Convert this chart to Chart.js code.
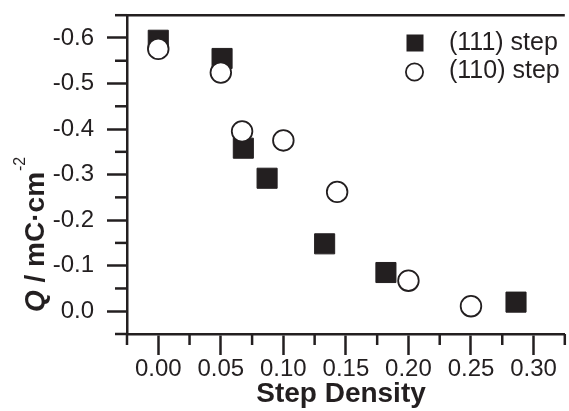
<!DOCTYPE html>
<html><head><meta charset="utf-8">
<script src="https://cdn.jsdelivr.net/npm/chart.js@4"></script>
<style>
html,body{margin:0;padding:0;background:#fff;overflow:hidden;width:569px;height:411px}
#wrap{position:relative;width:580px;height:411px}
canvas{display:block}
</style></head>
<body><div id="wrap"><canvas id="c" width="580" height="411"></canvas></div>
<script>
// ---- data ----
const stepDensity111 = [0.000, 0.051, 0.068, 0.087, 0.133, 0.182, 0.286];
const charge111      = [-0.595, -0.555, -0.358, -0.292, -0.148, -0.085, -0.020];
const stepDensity110 = [0.000, 0.050, 0.067, 0.100, 0.143, 0.200, 0.250];
const charge110      = [-0.576, -0.524, -0.395, -0.375, -0.262, -0.067, -0.011];

const seriesNames = ['(111) step', '(110) step'];
const xTickValues = [0.00, 0.05, 0.10, 0.15, 0.20, 0.25, 0.30];
const xTickLabels = ['0.00', '0.05', '0.10', '0.15', '0.20', '0.25', '0.30'];
const xMinorTicks = [-0.025, 0.025, 0.075, 0.125, 0.175, 0.225, 0.275, 0.325];
const yTickValues = [-0.6, -0.5, -0.4, -0.3, -0.2, -0.1, 0.0];
const yTickLabels = ['-0.6', '-0.5', '-0.4', '-0.3', '-0.2', '-0.1', '0.0'];
const yMinorTicks = [-0.65, -0.55, -0.45, -0.35, -0.25, -0.15, -0.05, 0.05];
const xTitle = 'Step Density';

const INK = '#231f20';
const FONT = '"Liberation Sans", Arial, Helvetica, sans-serif';

const toPts = (xs, ys) => xs.map((v, i) => ({x: v, y: ys[i]}));

const decor = {
  id: 'decor',
  afterDraw(chart) {
    const {ctx, chartArea: a, scales: {x, y}} = chart;
    ctx.save();
    ctx.strokeStyle = INK; ctx.fillStyle = INK; ctx.lineWidth = 2.5; ctx.lineCap = 'butt';
    // top frame line
    ctx.beginPath(); ctx.moveTo(a.left - 1, a.top); ctx.lineTo(a.right, a.top); ctx.stroke();
    // minor ticks
    yMinorTicks.forEach(v => {
      const p = y.getPixelForValue(v);
      ctx.beginPath(); ctx.moveTo(a.left - 12, p); ctx.lineTo(a.left, p); ctx.stroke();
    });
    xMinorTicks.forEach(v => {
      const p = x.getPixelForValue(v);
      ctx.beginPath(); ctx.moveTo(p, a.bottom); ctx.lineTo(p, a.bottom + 11); ctx.stroke();
    });
    // legend
    ctx.fillRect(406.5, 34.5, 17, 17);
    ctx.lineWidth = 1.8;
    ctx.fillStyle = '#fff';
    ctx.beginPath(); ctx.arc(414.5, 72, 8.6, 0, Math.PI * 2); ctx.fill(); ctx.stroke();
    ctx.fillStyle = INK;
    ctx.font = '25px ' + FONT;
    ctx.textAlign = 'left'; ctx.textBaseline = 'middle';
    ctx.fillText(seriesNames[0], 449, 43);
    ctx.fillText(seriesNames[1], 449, 71);
    // x title
    ctx.font = 'bold 28px ' + FONT;
    ctx.textAlign = 'center'; ctx.textBaseline = 'alphabetic';
    ctx.fillText(xTitle, 341, 402);
    // y title (rotated, mixed styles)
    ctx.translate(44, 312);
    ctx.rotate(-Math.PI / 2);
    ctx.textAlign = 'left';
    let xo = 0;
    ctx.font = 'italic bold 28px ' + FONT;
    ctx.fillText('Q', xo, 0); xo += ctx.measureText('Q').width;
    ctx.font = 'bold 28px ' + FONT;
    const mid = ' / mC\u00B7cm';
    ctx.fillText(mid, xo, 0); xo += ctx.measureText(mid).width;
    ctx.font = '16px ' + FONT;
    ctx.fillText('-2', xo + 1, -19);
    ctx.restore();
  }
};

new Chart(document.getElementById('c'), {
  type: 'scatter',
  data: {
    datasets: [
      {
        label: seriesNames[1],
        data: toPts(stepDensity110, charge110),
        pointStyle: 'circle', pointRadius: 10.3, pointHoverRadius: 10.3,
        backgroundColor: '#fff', borderColor: INK, borderWidth: 1.8,
        order: 0
      },
      {
        label: seriesNames[0],
        data: toPts(stepDensity111, charge111),
        pointStyle: 'rect', pointRadius: 14.2, pointHoverRadius: 14.2,
        backgroundColor: INK, borderColor: INK, borderWidth: 1,
        order: 1
      }
    ]
  },
  options: {
    responsive: false, animation: false, devicePixelRatio: 1,
    layout: {padding: {top: 13, right: 0, left: 0, bottom: 0}},
    plugins: {legend: {display: false}, tooltip: {enabled: false}},
    scales: {
      x: {
        type: 'linear', min: -0.025, max: 0.325,
        afterBuildTicks: s => { s.ticks = xTickValues.map(v => ({value: v})); },
        afterFit: s => { s.height = 77; s.paddingLeft = 0; s.paddingRight = 0; s.paddingTop = 0; s.paddingBottom = 0; },
        ticks: {
          autoSkip: false, maxRotation: 0, minRotation: 0, padding: 0,
          color: INK, font: {family: FONT, size: 24},
          callback: (v, i) => xTickLabels[i]
        },
        grid: {display: true, drawOnChartArea: false, drawTicks: true, tickLength: 21,
               tickWidth: 2.5, tickColor: INK, color: INK},
        border: {display: true, color: INK, width: 2.5}
      },
      y: {
        type: 'linear', min: -0.65, max: 0.05, reverse: true,
        afterBuildTicks: s => { s.ticks = yTickValues.map(v => ({value: v})); },
        afterFit: s => { s.width = 127; s.paddingLeft = 0; s.paddingRight = 0; s.paddingTop = 0; s.paddingBottom = 0; },
        ticks: {
          autoSkip: false, padding: 13,
          color: INK, font: {family: FONT, size: 24},
          callback: (v, i) => yTickLabels[i]
        },
        grid: {display: true, drawOnChartArea: false, drawTicks: true, tickLength: 20,
               tickWidth: 2.5, tickColor: INK, color: INK},
        border: {display: true, color: INK, width: 2.5}
      }
    }
  },
  plugins: [decor]
});
</script>
</body></html>
